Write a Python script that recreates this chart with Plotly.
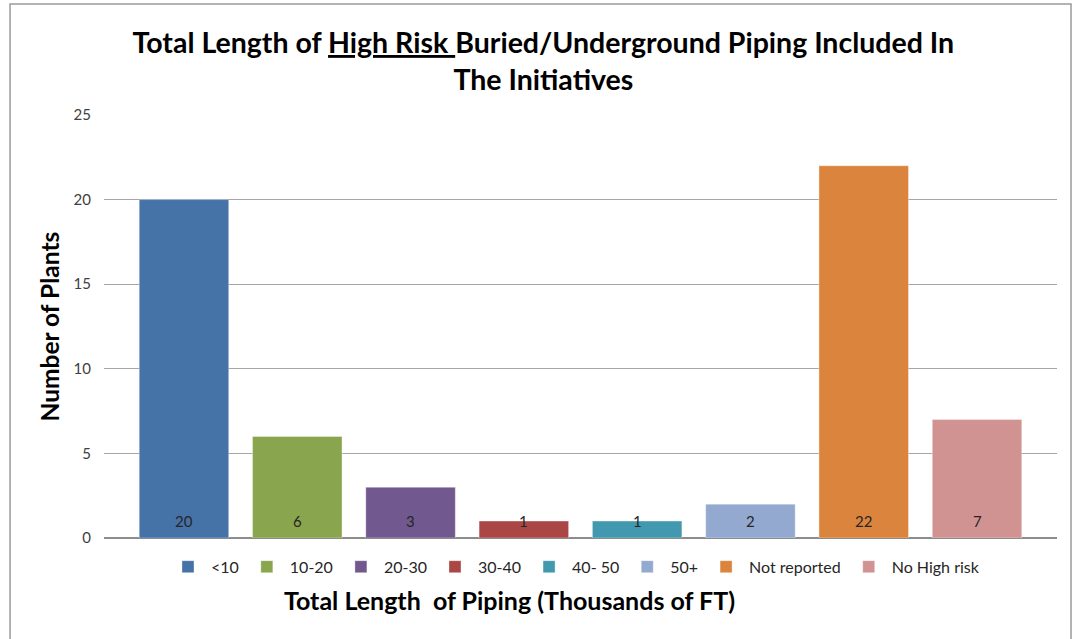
import plotly.graph_objects as go

# Plant counts by total length of high-risk buried piping
categories = ["<10", "10-20", "20-30", "30-40", "40- 50", "50+", "Not reported", "No High risk"]
plants = [20, 6, 3, 1, 1, 2, 22, 7]
colors = ["#4572A7", "#89A54E", "#71588F", "#AA4643", "#4198AF", "#93A9CF", "#DB843D", "#D19392"]
y_ticks = [0, 5, 10, 15, 20, 25]

FONT = "Lato"

fig = go.Figure()
for i, (cat, val, col) in enumerate(zip(categories, plants, colors)):
    fig.add_trace(go.Bar(
        x=[i], y=[val], name=cat, width=0.79,
        marker=dict(color=col, line=dict(color="rgba(255,255,255,0.35)", width=1)),
        hoverinfo="name+y",
    ))
    # value label sitting near the base of each bar
    fig.add_annotation(x=i, y=0, yshift=17, text=str(val), showarrow=False,
                       font=dict(family=FONT, size=15, color="#262626"))

# axis titles
fig.add_annotation(xref="paper", yref="paper", x=-0.0567, y=0.5, text="<b>Number of Plants</b>",
                   textangle=-90, showarrow=False, xanchor="center", yanchor="middle",
                   font=dict(family=FONT, size=24.5, color="black"))
fig.add_annotation(xref="paper", yref="paper", x=0.425, y=-0.147,
                   text="<b>Total Length  of Piping (Thousands of FT)</b>",
                   showarrow=False, xanchor="center", yanchor="middle",
                   font=dict(family=FONT, size=25, color="black"))

# outer chart frame
fig.add_shape(type="rect", xref="paper", yref="paper", x0=-0.0986, x1=1.0147, y0=-0.26, y1=1.2624,
              line=dict(color="#9a9a9a", width=1.5), layer="below")

fig.update_layout(
    width=1076, height=639,
    margin=dict(l=104, r=19, t=115, b=101),
    paper_bgcolor="white", plot_bgcolor="white",
    barmode="overlay",
    font=dict(family=FONT, color="#333333"),
    title=dict(
        text="<b>Total Length of <u>High Risk </u>Buried/Underground Piping Included In<br>The Initiatives</b>",
        xref="container", yref="container", x=0.505, y=1 - 53 / 639,
        xanchor="center", yanchor="middle",
        font=dict(family=FONT, size=28.5, color="black"),
    ),
    xaxis=dict(range=[-0.706, 7.706], showticklabels=False, showgrid=False, zeroline=False,
               ticks="", fixedrange=True),
    yaxis=dict(range=[0, 25], tickvals=y_ticks, showgrid=True, gridcolor="#a6a6a6", gridwidth=1,
               zeroline=True, zerolinecolor="#8c8c8c", zerolinewidth=1.5, ticks="",
               ticklabelstandoff=12, tickfont=dict(family=FONT, size=15, color="#404040")),
    legend=dict(orientation="h", x=0.064, y=-0.068, xanchor="left", yanchor="middle",
                font=dict(family=FONT, size=16, color="#262626"), itemwidth=36,
                bgcolor="rgba(0,0,0,0)", traceorder="normal"),
    showlegend=True,
)

fig.write_html("out.html")
